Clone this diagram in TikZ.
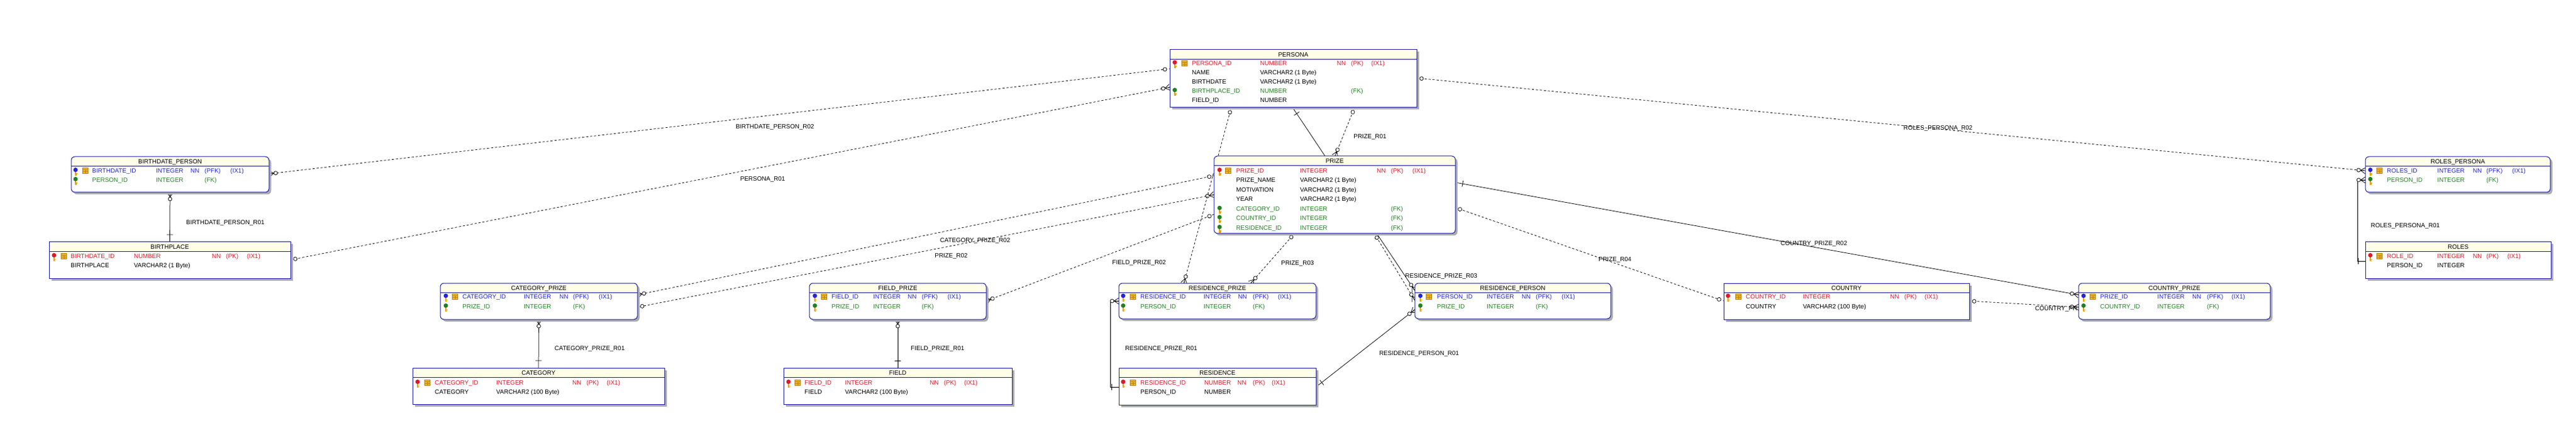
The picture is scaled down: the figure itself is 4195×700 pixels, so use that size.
\documentclass[tikz,border=0pt]{standalone}
\usepackage{fontspec}
\setmainfont{Liberation Sans}
\usepackage{xcolor}
\usepackage{tikz}
\usetikzlibrary{shapes.geometric, arrows, shadows, backgrounds}
\definecolor{erblue}{RGB}{28,28,168}
\definecolor{erhead}{RGB}{255,255,232}
\definecolor{ershadow}{RGB}{172,172,172}
\definecolor{erred}{RGB}{222,24,40}
\definecolor{ergreen}{RGB}{34,128,34}
\definecolor{erpfk}{RGB}{36,36,210}
\definecolor{erstem}{RGB}{236,160,0}
\definecolor{erix}{RGB}{236,184,44}
\definecolor{erixline}{RGB}{190,130,10}

\newlength{\wname}\newlength{\wtype}\newlength{\wnn}\newlength{\wkey}
\newcommand{\setcols}[4]{\setlength{\wname}{#1pt}\setlength{\wtype}{#2pt}\setlength{\wnn}{#3pt}\setlength{\wkey}{#4pt}}
\newcommand{\erow}[5]{\makebox[\wname][l]{#1}\makebox[\wtype][l]{#2}\makebox[\wnn][l]{#3}\makebox[\wkey][l]{#4}#5}

\tikzset{
  tbl/.style={draw=erblue, line width=1pt, fill=white, outer sep=0pt, inner sep=0pt,
    drop shadow={shadow xshift=3.5pt, shadow yshift=-3.5pt, fill=ershadow, opacity=1},
    path picture={
      \fill[erhead] (path picture bounding box.north west) rectangle ([yshift=-15pt]path picture bounding box.north east);
      \draw[erblue, line width=0.9pt] ([yshift=-15pt]path picture bounding box.north west) -- ([yshift=-15pt]path picture bounding box.north east);
    }},
  rtbl/.style={tbl, rounded corners=6pt},
  ertext/.style={font=\fontsize{10}{12}\selectfont, inner sep=0pt, text height=7.2pt, text depth=0pt},
  hdr/.style={ertext},
  row/.style={ertext, anchor=west},
  pkrow/.style={row, text=erred},
  fkrow/.style={row, text=ergreen},
  pfkrow/.style={row, text=erpfk},
  rel/.style={ertext},
  conn/.style={line width=0.75pt},
  dconn/.style={conn, dash pattern=on 3.5pt off 3pt},
  endmk/.style={sloped, allow upside down},
  pics/zero/.style={code={\draw[solid, line width=0.75pt, fill=white] (8*#1,0) circle (3);}},
  pics/many/.style={code={
    \draw[solid, line width=0.75pt] (8*#1,0) -- (0,-5) (8*#1,0) -- (0,0) (8*#1,0) -- (0,5);
    \draw[solid, line width=0.75pt, fill=white] (11*#1,0) circle (3);}},
  pics/one/.style={code={\draw[solid, line width=0.75pt] (12*#1,-5) -- (12*#1,5);}},
  pics/keyicon/.style={code={
    \fill[erstem] (-1,0) rectangle (1,8);
    \fill[erstem] (1,4.5) rectangle (2.8,5.7);
    \fill[erstem] (1,6.5) rectangle (2.4,7.7);
    \fill[#1] (0,-1.5) circle (3.6);}},
  pics/ixicon/.style={code={
    \filldraw[fill=erix, draw=erixline, line width=0.5pt] (-4.5,-4.5) rectangle (4.5,4.5);
    \draw[erixline, line width=0.5pt] (-4.5,-1.5) -- (4.5,-1.5) (-4.5,1.5) -- (4.5,1.5) (0,-1.5) -- (0,4.5);}}
}

\begin{document}
\begin{tikzpicture}[x=1pt, y=-1pt]
\useasboundingbox (0,0) rectangle (4195,700);

% BIRTHDATE_PERSON
\node[rtbl, minimum width=322pt, minimum height=58pt] (bdp) at (277,284) {};
\node[hdr] (bdp-h) at ([yshift=-7.5pt]bdp.north) {BIRTHDATE\_PERSON};
\setcols{104}{56}{23}{42}
\node[pfkrow] (bdp-r1) at (150,278) {\erow{BIRTHDATE\_ID}{INTEGER}{NN}{(PFK)}{(IX1)}};
\node[fkrow] (bdp-r2) at (150,293) {\erow{PERSON\_ID}{INTEGER}{}{(FK)}{}};
\pic at (123,278) {keyicon=erpfk};
\pic at (139,278) {ixicon};
\pic at (123,293) {keyicon=ergreen};

% BIRTHPLACE
\node[tbl, minimum width=393pt, minimum height=59pt] (bp) at (276.5,423.5) {};
\node[hdr] (bp-h) at ([yshift=-7.5pt]bp.north) {BIRTHPLACE};
\setcols{103}{127}{23}{34}
\node[pkrow] (bp-r1) at (115,417) {\erow{BIRTHDATE\_ID}{NUMBER}{NN}{(PK)}{(IX1)}};
\node[row] (bp-r2) at (115,432) {\erow{BIRTHPLACE}{VARCHAR2 (1 Byte)}{}{}{}};
\pic at (88,417) {keyicon=erred};
\pic at (104,417) {ixicon};

% PERSONA
\node[tbl, minimum width=402pt, minimum height=94pt] (persona) at (2106,128) {};
\node[hdr] (persona-h) at ([yshift=-7.5pt]persona.north) {PERSONA};
\setcols{111}{125}{23}{33}
\node[pkrow] (persona-r1) at (1941,103) {\erow{PERSONA\_ID}{NUMBER}{NN}{(PK)}{(IX1)}};
\node[row] (persona-r2) at (1941,118) {\erow{NAME}{VARCHAR2 (1 Byte)}{}{}{}};
\node[row] (persona-r3) at (1941,133) {\erow{BIRTHDATE}{VARCHAR2 (1 Byte)}{}{}{}};
\node[fkrow] (persona-r4) at (1941,148) {\erow{BIRTHPLACE\_ID}{NUMBER}{}{(FK)}{}};
\node[row] (persona-r5) at (1941,163) {\erow{FIELD\_ID}{NUMBER}{}{}{}};
\pic at (1913,103) {keyicon=erred};
\pic at (1929,103) {ixicon};
\pic at (1913,148) {keyicon=ergreen};

% PRIZE
\node[rtbl, minimum width=393pt, minimum height=126pt] (prize) at (2173.5,317) {};
\node[hdr] (prize-h) at ([yshift=-7.5pt]prize.north) {PRIZE};
\setcols{104}{125}{23}{35}
\node[pkrow] (prize-r1) at (2013,278) {\erow{PRIZE\_ID}{INTEGER}{NN}{(PK)}{(IX1)}};
\node[row] (prize-r2) at (2013,293) {\erow{PRIZE\_NAME}{VARCHAR2 (1 Byte)}{}{}{}};
\node[row] (prize-r3) at (2013,309) {\erow{MOTIVATION}{VARCHAR2 (1 Byte)}{}{}{}};
\node[row] (prize-r4) at (2013,324) {\erow{YEAR}{VARCHAR2 (1 Byte)}{}{}{}};
\node[fkrow] (prize-r5) at (2013,340) {\erow{CATEGORY\_ID}{INTEGER}{}{(FK)}{}};
\node[fkrow] (prize-r6) at (2013,355) {\erow{COUNTRY\_ID}{INTEGER}{}{(FK)}{}};
\node[fkrow] (prize-r7) at (2013,371) {\erow{RESIDENCE\_ID}{INTEGER}{}{(FK)}{}};
\pic at (1986,278) {keyicon=erred};
\pic at (2000,278) {ixicon};
\pic at (1986,340) {keyicon=ergreen};
\pic at (1986,355) {keyicon=ergreen};
\pic at (1986,371) {keyicon=ergreen};

% CATEGORY_PRIZE
\node[rtbl, minimum width=321pt, minimum height=59pt] (catprize) at (877.5,490.5) {};
\node[hdr] (catprize-h) at ([yshift=-7.5pt]catprize.north) {CATEGORY\_PRIZE};
\setcols{100}{58}{22}{42}
\node[pfkrow] (catprize-r1) at (753,483) {\erow{CATEGORY\_ID}{INTEGER}{NN}{(PFK)}{(IX1)}};
\node[fkrow] (catprize-r2) at (753,499) {\erow{PRIZE\_ID}{INTEGER}{}{(FK)}{}};
\pic at (726,483) {keyicon=erpfk};
\pic at (741,483) {ixicon};
\pic at (726,499) {keyicon=ergreen};

% CATEGORY
\node[tbl, minimum width=410pt, minimum height=59pt] (category) at (877,628.5) {};
\node[hdr] (category-h) at ([yshift=-7.5pt]category.north) {CATEGORY};
\setcols{100}{124}{23}{33}
\node[pkrow] (category-r1) at (708,623) {\erow{CATEGORY\_ID}{INTEGER}{NN}{(PK)}{(IX1)}};
\node[row] (category-r2) at (708,638) {\erow{CATEGORY}{VARCHAR2 (100 Byte)}{}{}{}};
\pic at (680,623) {keyicon=erred};
\pic at (696,623) {ixicon};

% FIELD_PRIZE
\node[rtbl, minimum width=288pt, minimum height=59pt] (fieldprize) at (1462,490.5) {};
\node[hdr] (fieldprize-h) at ([yshift=-7.5pt]fieldprize.north) {FIELD\_PRIZE};
\setcols{68}{56}{23}{42}
\node[pfkrow] (fieldprize-r1) at (1354,483) {\erow{FIELD\_ID}{INTEGER}{NN}{(PFK)}{(IX1)}};
\node[fkrow] (fieldprize-r2) at (1354,499) {\erow{PRIZE\_ID}{INTEGER}{}{(FK)}{}};
\pic at (1327,483) {keyicon=erpfk};
\pic at (1342,483) {ixicon};
\pic at (1327,499) {keyicon=ergreen};

% FIELD
\node[tbl, minimum width=372pt, minimum height=59pt] (field) at (1462,628.5) {};
\node[hdr] (field-h) at ([yshift=-7.5pt]field.north) {FIELD};
\setcols{66}{138}{23}{33}
\node[pkrow] (field-r1) at (1310,623) {\erow{FIELD\_ID}{INTEGER}{NN}{(PK)}{(IX1)}};
\node[row] (field-r2) at (1310,638) {\erow{FIELD}{VARCHAR2 (100 Byte)}{}{}{}};
\pic at (1284,623) {keyicon=erred};
\pic at (1299,623) {ixicon};

% RESIDENCE_PRIZE
\node[rtbl, minimum width=321pt, minimum height=58pt] (resprize) at (1982.5,490) {};
\node[hdr] (resprize-h) at ([yshift=-7.5pt]resprize.north) {RESIDENCE\_PRIZE};
\setcols{103}{56}{24}{41}
\node[pfkrow] (resprize-r1) at (1857,483) {\erow{RESIDENCE\_ID}{INTEGER}{NN}{(PFK)}{(IX1)}};
\node[fkrow] (resprize-r2) at (1857,499) {\erow{PERSON\_ID}{INTEGER}{}{(FK)}{}};
\pic at (1829,483) {keyicon=erpfk};
\pic at (1845,483) {ixicon};
\pic at (1829,499) {keyicon=ergreen};

% RESIDENCE
\node[tbl, minimum width=321pt, minimum height=60pt] (residence) at (1982.5,629) {};
\node[hdr] (residence-h) at ([yshift=-7.5pt]residence.north) {RESIDENCE};
\setcols{104}{54}{25}{31}
\node[pkrow] (residence-r1) at (1857,623) {\erow{RESIDENCE\_ID}{NUMBER}{NN}{(PK)}{(IX1)}};
\node[row] (residence-r2) at (1857,638) {\erow{PERSON\_ID}{NUMBER}{}{}{}};
\pic at (1829,623) {keyicon=erred};
\pic at (1845,623) {ixicon};

% RESIDENCE_PERSON
\node[rtbl, minimum width=319pt, minimum height=58pt] (resperson) at (2463.5,490) {};
\node[hdr] (resperson-h) at ([yshift=-7.5pt]resperson.north) {RESIDENCE\_PERSON};
\setcols{81}{57}{23}{42}
\node[pfkrow] (resperson-r1) at (2340,483) {\erow{PERSON\_ID}{INTEGER}{NN}{(PFK)}{(IX1)}};
\node[fkrow] (resperson-r2) at (2340,499) {\erow{PRIZE\_ID}{INTEGER}{}{(FK)}{}};
\pic at (2313,483) {keyicon=erpfk};
\pic at (2327,483) {ixicon};
\pic at (2313,499) {keyicon=ergreen};

% COUNTRY
\node[tbl, minimum width=400pt, minimum height=59pt] (country) at (3007,490.5) {};
\node[hdr] (country-h) at ([yshift=-7.5pt]country.north) {COUNTRY};
\setcols{93}{142}{23}{33}
\node[pkrow] (country-r1) at (2843,483) {\erow{COUNTRY\_ID}{INTEGER}{NN}{(PK)}{(IX1)}};
\node[row] (country-r2) at (2843,499) {\erow{COUNTRY}{VARCHAR2 (100 Byte)}{}{}{}};
\pic at (2814,483) {keyicon=erred};
\pic at (2831,483) {ixicon};

% COUNTRY_PRIZE
\node[rtbl, minimum width=312pt, minimum height=59pt] (countryprize) at (3541,490.5) {};
\node[hdr] (countryprize-h) at ([yshift=-7.5pt]countryprize.north) {COUNTRY\_PRIZE};
\setcols{93}{57}{24}{40}
\node[pfkrow] (countryprize-r1) at (3420,483) {\erow{PRIZE\_ID}{INTEGER}{NN}{(PFK)}{(IX1)}};
\node[fkrow] (countryprize-r2) at (3420,499) {\erow{COUNTRY\_ID}{INTEGER}{}{(FK)}{}};
\pic at (3393,483) {keyicon=erpfk};
\pic at (3408,483) {ixicon};
\pic at (3393,499) {keyicon=ergreen};

% ROLES_PERSONA
\node[rtbl, minimum width=301pt, minimum height=58pt] (rolespersona) at (4002.5,284) {};
\node[hdr] (rolespersona-h) at ([yshift=-7.5pt]rolespersona.north) {ROLES\_PERSONA};
\setcols{82}{58}{22}{42}
\node[pfkrow] (rolespersona-r1) at (3887,278) {\erow{ROLES\_ID}{INTEGER}{NN}{(PFK)}{(IX1)}};
\node[fkrow] (rolespersona-r2) at (3887,293) {\erow{PERSON\_ID}{INTEGER}{}{(FK)}{}};
\pic at (3860,278) {keyicon=erpfk};
\pic at (3875,278) {ixicon};
\pic at (3860,293) {keyicon=ergreen};

% ROLES
\node[tbl, minimum width=302pt, minimum height=59pt] (roles) at (4003,423.5) {};
\node[hdr] (roles-h) at ([yshift=-7.5pt]roles.north) {ROLES};
\setcols{82}{58}{22}{34}
\node[pkrow] (roles-r1) at (3887,417) {\erow{ROLE\_ID}{INTEGER}{NN}{(PK)}{(IX1)}};
\node[row] (roles-r2) at (3887,432) {\erow{PERSON\_ID}{INTEGER}{}{}{}};
\pic at (3860,417) {keyicon=erred};
\pic at (3875,417) {ixicon};

% Relations (behind the tables)
\begin{scope}[on background layer]
\fill[white] (0,0) rectangle (4195,700);

\draw[conn] (bdp.south) -- (bp.north)
  pic[pos=0, endmk]{many=1} pic[pos=1, endmk]{one=-1};
\draw[dconn] ([yshift=-28pt]bdp.north east) -- ([yshift=-31pt]persona.north west)
  pic[pos=0, endmk]{many=1} pic[pos=1, endmk]{zero=-1};
\draw[dconn] ([yshift=-29pt]bp.north east) -- ([yshift=-61pt]persona.north west)
  pic[pos=0, endmk]{zero=1} pic[pos=1, endmk]{many=-1};

\draw[dconn] ([yshift=-32pt]prize.north west) -- ([yshift=-19pt]catprize.north east)
  pic[pos=0, endmk]{zero=1} pic[pos=1, endmk]{many=-1};
\draw[dconn] ([yshift=-63pt]prize.north west) -- ([yshift=-39pt]catprize.north east)
  pic[pos=0, endmk]{many=1} pic[pos=1, endmk]{zero=-1};
\draw[dconn] ([yshift=-95pt]prize.north west) -- ([yshift=-29pt]fieldprize.north east)
  pic[pos=0, endmk]{zero=1} pic[pos=1, endmk]{many=-1};
\draw[conn] (catprize.south) -- (category.north)
  pic[pos=0, endmk]{many=1} pic[pos=1, endmk]{one=-1};
\draw[conn] (fieldprize.south) -- (field.north)
  pic[pos=0, endmk]{many=1} pic[pos=1, endmk]{one=-1};

\draw[dconn] ([xshift=100pt]persona.south west) -- ([xshift=106pt]resprize.north west)
  pic[pos=0, endmk]{zero=1} pic[pos=1, endmk]{many=-1};
\draw[conn] ([xshift=200pt]persona.south west) -- ([yshift=-12pt]resperson.north west)
  pic[pos=0, endmk]{one=1} pic[pos=1, endmk]{many=-1};
\draw[dconn] ([xshift=301pt]persona.south west) -- ([xshift=197pt]prize.north west)
  pic[pos=0, endmk]{zero=1} pic[pos=1, endmk]{many=-1};
\draw[dconn] ([xshift=131pt]prize.south west) -- ([xshift=215pt]resprize.north west)
  pic[pos=0, endmk]{zero=1} pic[pos=1, endmk]{many=-1};
\draw[dconn] ([xshift=261pt]prize.south west) -- ([yshift=-28pt]resperson.north west)
  pic[pos=0, endmk]{zero=1} pic[pos=1, endmk]{many=-1};
\draw[conn] ([yshift=-31pt]residence.north east) -- ([yshift=-43pt]resperson.north west)
  pic[pos=0, endmk]{one=1} pic[pos=1, endmk]{many=-1};
\draw[conn] ([yshift=-29pt]resprize.north west) -- ++(-14,0) pic[pos=0, endmk]{many=1}
  |- ([yshift=-31pt]residence.north west) pic[pos=1, endmk]{one=-1};

\draw[conn] ([yshift=-43pt]prize.north east) -- ([yshift=-19pt]countryprize.north west)
  pic[pos=0, endmk]{one=1} pic[pos=1, endmk]{many=-1};
\draw[dconn] ([yshift=-84pt]prize.north east) -- ([yshift=-29pt]country.north west)
  pic[pos=0, endmk]{zero=1} pic[pos=1, endmk]{zero=-1};
\draw[dconn] ([yshift=-29pt]country.north east) -- ([yshift=-39pt]countryprize.north west)
  pic[pos=0, endmk]{zero=1} pic[pos=1, endmk]{many=-1};

\draw[dconn] ([yshift=-46pt]persona.north east) -- ([yshift=-23pt]rolespersona.north west)
  pic[pos=0, endmk]{zero=1} pic[pos=1, endmk]{many=-1};
\draw[conn] ([yshift=-38pt]rolespersona.north west) -- ++(-13,0) pic[pos=0, endmk]{many=1}
  |- ([yshift=-31pt]roles.north west) pic[pos=1, endmk]{one=-1};

% Relation names
\node[rel, anchor=west] (l-bdp1) at (303,362) {BIRTHDATE\_PERSON\_R01};
\node[rel] (l-bdp2) at (1262,206) {BIRTHDATE\_PERSON\_R02};
\node[rel] (l-persona1) at (1242,291) {PERSONA\_R01};
\node[rel] (l-catprize2) at (1588,391) {CATEGORY\_PRIZE\_R02};
\node[rel] (l-prize2) at (1549,416) {PRIZE\_R02};
\node[rel] (l-fieldprize2) at (1855,427) {FIELD\_PRIZE\_R02};
\node[rel, anchor=west] (l-catprize1) at (903,567) {CATEGORY\_PRIZE\_R01};
\node[rel, anchor=west] (l-fieldprize1) at (1483,567) {FIELD\_PRIZE\_R01};
\node[rel] (l-prize1) at (2231,222) {PRIZE\_R01};
\node[rel] (l-prize3) at (2113,428) {PRIZE\_R03};
\node[rel] (l-resprize3) at (2347,449) {RESIDENCE\_PRIZE\_R03};
\node[rel] (l-resprize1) at (1891,567) {RESIDENCE\_PRIZE\_R01};
\node[rel] (l-resperson1) at (2311,575) {RESIDENCE\_PERSON\_R01};
\node[rel] (l-prize4) at (2630,422) {PRIZE\_R04};
\node[rel] (l-countryprize2) at (2954,396) {COUNTRY\_PRIZE\_R02};
\node[rel, anchor=east] (l-countryprize1) at (3383,502) {COUNTRY\_PR};
\node[rel] (l-rolespersona2) at (3156,208) {ROLES\_PERSONA\_R02};
\node[rel] (l-rolespersona1) at (3917,367) {ROLES\_PERSONA\_R01};
\end{scope}
\end{tikzpicture}
\end{document}
